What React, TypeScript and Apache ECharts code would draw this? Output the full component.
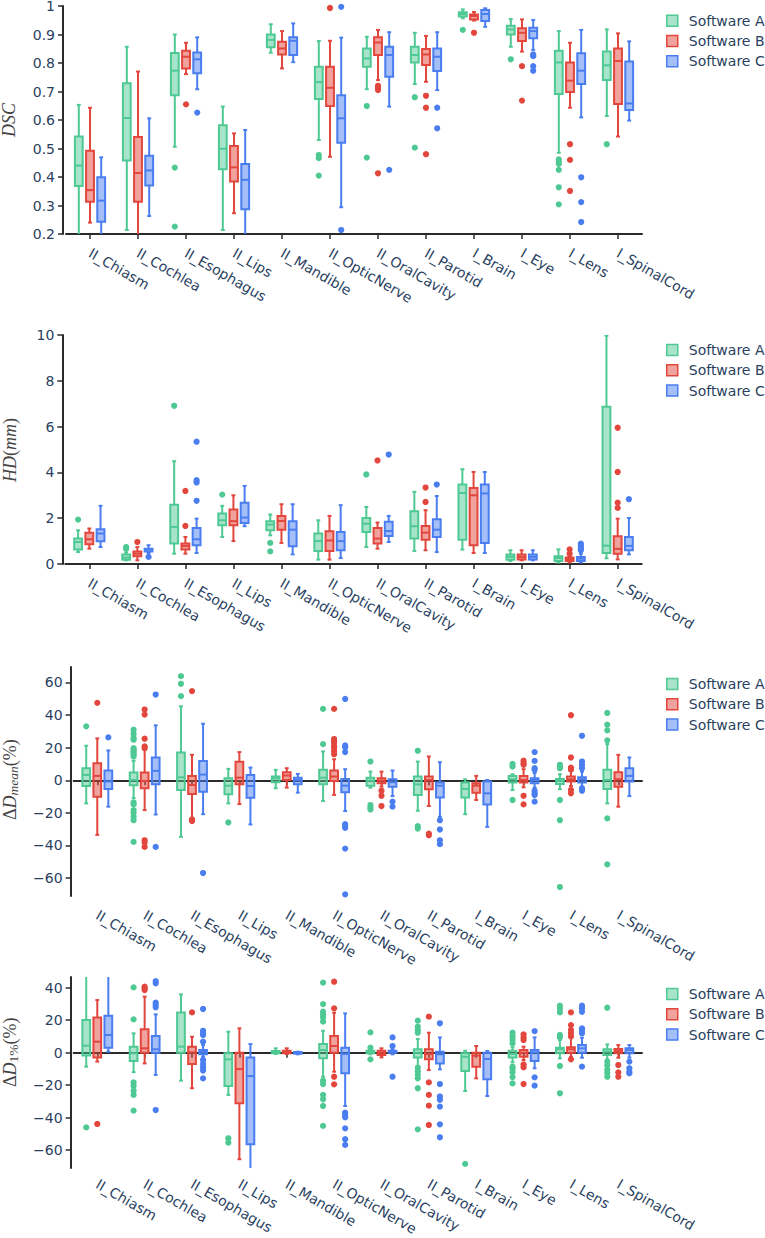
import React, { useEffect, useRef } from 'react';
import * as echarts from 'echarts';

const categories = ['II_Chiasm', 'II_Cochlea', 'II_Esophagus', 'II_Lips', 'II_Mandible', 'II_OpticNerve', 'II_OralCavity', 'II_Parotid', 'I_Brain', 'I_Eye', 'I_Lens', 'I_SpinalCord'];
const softwareNames = ['Software A', 'Software B', 'Software C'];

// ---- DSC: [lowerWhisker, q1, median, q3, upperWhisker]
const dscA = [[0.15, 0.368, 0.44, 0.542, 0.653], [0.214, 0.458, 0.607, 0.729, 0.857], [0.506, 0.687, 0.773, 0.835, 0.9], [0.214, 0.427, 0.499, 0.582, 0.647], [0.836, 0.855, 0.881, 0.9, 0.936], [0.53, 0.674, 0.733, 0.787, 0.877], [0.708, 0.787, 0.816, 0.851, 0.892], [0.726, 0.802, 0.828, 0.857, 0.906], [0.957, 0.963, 0.972, 0.978, 0.988], [0.857, 0.9, 0.918, 0.931, 0.954], [0.485, 0.691, 0.802, 0.843, 0.912], [0.614, 0.74, 0.792, 0.84, 0.918]];
const dscAOut = [[], [], [0.433, 0.226], [], [], [0.477, 0.466, 0.405], [0.649, 0.468], [0.68, 0.503], [0.916], [0.813], [0.462, 0.454, 0.446, 0.425, 0.364, 0.304], [0.515]];
const dscB = [[0.24, 0.313, 0.354, 0.492, 0.643], [0.15, 0.313, 0.414, 0.54, 0.77], [0.761, 0.781, 0.822, 0.843, 0.871], [0.273, 0.384, 0.434, 0.509, 0.553], [0.781, 0.83, 0.851, 0.875, 0.912], [0.471, 0.649, 0.713, 0.787, 0.878], [0.74, 0.828, 0.872, 0.89, 0.916], [0.734, 0.793, 0.83, 0.849, 0.895], [0.949, 0.953, 0.965, 0.97, 0.979], [0.84, 0.877, 0.906, 0.922, 0.953], [0.643, 0.698, 0.738, 0.802, 0.871], [0.542, 0.656, 0.807, 0.851, 0.904]];
const dscBOut = [[], [], [0.655], [], [], [0.993], [0.72, 0.713, 0.705, 0.413], [0.685, 0.643, 0.48], [0.906], [0.789, 0.668], [0.515, 0.46, 0.351], []];
const dscC = [[0.15, 0.243, 0.317, 0.399, 0.469], [0.263, 0.37, 0.423, 0.475, 0.606], [0.708, 0.764, 0.813, 0.837, 0.89], [0.15, 0.287, 0.39, 0.446, 0.565], [0.803, 0.828, 0.878, 0.89, 0.939], [0.294, 0.52, 0.606, 0.687, 0.889], [0.647, 0.752, 0.828, 0.857, 0.908], [0.705, 0.772, 0.822, 0.851, 0.908], [0.927, 0.947, 0.972, 0.986, 0.992], [0.846, 0.887, 0.912, 0.924, 0.951], [0.609, 0.726, 0.773, 0.834, 0.916], [0.598, 0.635, 0.658, 0.805, 0.876]];
const dscCOut = [[], [], [0.626], [], [], [0.997, 0.214], [0.425], [0.643, 0.571], [], [0.83, 0.824, 0.789, 0.773], [0.399, 0.312, 0.242], []];

// ---- HD (mm)
const hdA = [[0.52, 0.63, 0.96, 1.11, 1.47], [0.16, 0.19, 0.28, 0.42, 0.5], [0.45, 0.89, 1.62, 2.59, 4.49], [1.18, 1.69, 1.91, 2.2, 2.54], [1.25, 1.47, 1.72, 1.87, 2.16], [0.19, 0.57, 1.0, 1.33, 1.91], [0.74, 1.4, 1.76, 2.01, 2.49], [0.57, 1.11, 1.65, 2.3, 3.15], [0.63, 1.06, 3.1, 3.47, 4.14], [0.13, 0.19, 0.31, 0.41, 0.6], [0.06, 0.13, 0.26, 0.34, 0.64], [0.25, 0.48, 0.8, 6.87, 9.97]];
const hdAOut = [[1.94], [0.74, 0.66], [6.91], [3.03], [0.92, 0.55], [], [3.91], [], [], [], [], []];
const hdB = [[0.67, 0.86, 1.08, 1.36, 1.55], [0.16, 0.34, 0.45, 0.55, 0.74], [0.45, 0.63, 0.79, 0.89, 1.18], [1.0, 1.69, 1.87, 2.38, 3.0], [0.92, 1.5, 1.88, 2.1, 2.61], [0.19, 0.57, 1.03, 1.43, 2.1], [0.67, 0.89, 1.11, 1.57, 1.81], [0.6, 1.06, 1.37, 1.66, 2.35], [0.48, 0.82, 3.0, 3.32, 4.02], [0.16, 0.2, 0.31, 0.41, 0.6], [0.07, 0.13, 0.22, 0.28, 0.35], [0.2, 0.45, 0.66, 1.21, 1.98]];
const hdBOut = [[], [0.96], [3.19, 1.66], [], [], [], [4.52], [3.34, 2.71], [], [], [0.64, 0.45], [5.95, 4.02, 2.68, 2.45]];
const hdC = [[0.74, 0.99, 1.33, 1.52, 2.54], [0.48, 0.55, 0.63, 0.67, 0.82], [0.48, 0.82, 1.08, 1.57, 1.98], [1.65, 1.79, 2.03, 2.68, 3.41], [0.42, 0.77, 1.5, 1.87, 2.61], [0.26, 0.6, 1.0, 1.4, 2.57], [0.96, 1.22, 1.44, 1.84, 2.1], [0.52, 1.18, 1.5, 1.95, 2.97], [0.48, 0.92, 3.08, 3.47, 4.02], [0.16, 0.2, 0.31, 0.41, 0.6], [0.07, 0.13, 0.23, 0.31, 0.45], [0.42, 0.6, 0.79, 1.18, 2.01]];
const hdCOut = [[], [0.31], [5.34, 3.66, 3.56, 2.76], [], [], [], [4.78], [3.47], [], [], [0.89, 0.82, 0.74, 0.67, 0.6], [2.83]];

// ---- ΔD mean (%)
const dmA = [[-14.2, -3.5, 3.3, 7.4, 21.2], [-11, -3.1, 0.2, 4.7, 12], [-34.7, -6.0, 1.8, 17.1, 45.4], [-14.2, -8.6, -3.3, 1.2, 7], [-4.9, -1.2, 1.2, 2.3, 6.4], [-12.7, -2.5, 1.6, 6.4, 17.7], [-4.5, -3.3, -0.2, 1.6, 5.3], [-18.7, -9.0, -2.5, 2.3, 11.5], [-20.8, -10.5, -5.3, -1.4, 0.6], [-6.0, -1.4, 0.6, 2.7, 3.7], [-5.5, -2.3, -0.4, 0.8, 3.7], [-14.2, -5.3, 0.2, 6.4, 22.2]];
const dmAOut = [[33.1], [31, 28.4, 25.9, 24.9, 19.7, 18.7, 17.7, 16.6, 15.6, 14.6, -13.6, -14.8, -18.3, -20, -22.4, -24.5, -37.8], [63.9, 59.2, 51.6], [-25.9], [], [43.8, 22.2], [11.5, -15.2, -16.8, -17.9], [18.1, -28.1, -29.6], [], [10, 8.4, -12.1], [9.5, 8.4, 7.4, -12.1, -24.5, -65.5], [41.3, 34.1, 30.6, 24.5, -23.4, -51.6]];
const dmB = [[-33.5, -10.1, 2.7, 10.5, 25.7], [-18.3, -4.9, -0.4, 4.7, 18.7], [-24.5, -8.4, -2.9, 2.7, 15.6], [-14.6, -2.5, 1.6, 11.3, 17.3], [-4.5, 0.2, 2.9, 4.9, 7.4], [-9.0, -0.4, 2.3, 6.0, 12.9], [-3.9, -1.8, -0.2, 1.2, 5.3], [-15.8, -5.5, 0.2, 2.3, 14.6], [-12.1, -7.6, -3.3, -1.8, 2.7], [-4.3, -1.4, 0.2, 2.7, 6.8], [-3.5, -0.8, 0.6, 2.3, 5.8], [-16.2, -3.9, 0.6, 4.9, 15.6]];
const dmBOut = [[47.5], [43.4, 40.3, 25.5, 20.8, 19.7, -36.8, -38.2, -40.9], [54.7, -24.0, -25.0], [], [], [43.8, 25.3, 24, 23, 21, 20, 18, 16], [-6.4, -9.5, -15.8], [-32.7, -33.7], [], [12, 10.5, 9.5, -9.5, -14.8], [39.9, 14, 7.8, 6.5, -6, -8], []];
const dmC = [[-16.2, -5.3, -0.8, 6.0, 18.3], [-21, -2.5, 5.8, 14.0, 33.7], [-20.8, -7.0, 3.5, 11.9, 34.7], [-27.1, -10.7, -3.5, 3.3, 7.8], [-7.6, -2.5, 0.2, 1.6, 3.9], [-18.9, -7.4, -3.3, 0.8, 6.8], [-9.7, -3.9, -1.2, 0.6, 6.0], [-22.4, -10.5, -3.3, -1.4, 11.1], [-28.6, -14.8, -8.0, -0.8, 0.2], [-4.5, -1.8, 0.2, 1.2, 4.5], [-3.9, -1.4, 0.6, 1.8, 5.3], [-9.7, -0.8, 2.7, 7.4, 14]];
const dmCOut = [[26.3], [52.6, -40.9], [-56.9], [], [], [49.9, 21.4, 20.3, 17.3, -26.9, -27.9, -29.2, -41.9, -70], [-13.1, -16.2], [-24.5, -30.2, -36.8, -39.2], [], [17.3, 11.9, 7.4, 6.4, -6.4, -8, -9, -13.1], [27.3, 11.5, 9.5, 7.4, -4.9, -6.4], []];

// ---- ΔD 1% (%)
const d1A = [[-8.6, -1.8, 4.3, 20.1, 52], [-12, -5.1, -0.4, 3.7, 11.9], [-17.2, 0, 3.7, 24.8, 35.9], [-26, -20.5, -4.1, -0.4, 12.9], [-0.8, -0.4, 0, 1.0, 2.7], [-14.8, -3.5, 1.6, 5.3, 13.5], [-1.0, -0.4, 0, 1.2, 1.6], [-8.2, -2.9, 0, 2.1, 8.4], [-23.6, -11.3, -2.5, -0.4, 1.2], [-5.9, -2.9, -0.8, 1.2, 3.3], [-3.5, -0.4, 2.1, 3.1, 7.8], [-4.1, -1.4, 0.6, 2.1, 5.1]];
const d1AOut = [[-46], [40.2, 20.5, -18.3, -20.5, -23.4, -26, -35.7], [], [-52.7, -55.4], [], [43.1, 29.9, 25.2, 23.6, 21.7, 19.1, -17.2, -19.3, -26, -28.7, -32.8, -45.1], [12.5, 3.1, -4.1], [19.7, 16, 14, 12.3, -9.2, -11.5, -13.7, -15.8, -21.9, -47.2], [-68.5], [12.3, 10, 8, 5.7, -8.6, -10, -12, -15, -18.9], [28.9, 26.9, 24.8, 10.9, 9.4, -8.2, -25], [27.7, -5.5, -7.8, -10.5, -12.5, -14.8]];
const d1B = [[-5.5, -2.9, 6.8, 21.7, 32.4], [-6.6, 0, 2.7, 14.4, 34.5], [-21.9, -7.0, 0.2, 3.7, 9.8], [-65.6, -31.2, -10.1, 0, 15], [-0.8, -0.4, 0.4, 1.2, 2.7], [-11.7, 0, 4.1, 10.3, 24.6], [-2.9, -1.4, 0, 1.2, 2.7], [-10.7, -4.1, -0.8, 2.1, 12.3], [-15.8, -8.6, -1.8, 0, 4.1], [-4.5, -2.5, 0, 1.6, 3.7], [-2.5, 0, 2.1, 3.3, 9.2], [-3.1, -0.4, 1.0, 2.3, 4.7]];
const d1BOut = [[-43.9], [40.6, 39.6, 38.6], [24.8], [], [], [43.7, 27.3, -14.8, -19.5], [], [22.2, -18.3, -26, -32.6, -44.5], [], [11.3, 9.4, 7.8, -7.2, -9, -19.3], [24.8, 17, 14, 12, 10, -4.1], [-7.6, -12.1, -14.8]];
const d1C = [[0.6, 3.1, 10.9, 22.8, 52], [-13.7, 0, 2.1, 10.3, 23.6], [-2.5, -1.0, 0.6, 1.6, 4.7], [-80, -56.4, -14.4, -2.9, 5.3], [-1.0, -0.6, 0, 0.4, 0.6], [-32.8, -12.7, -0.8, 3.1, 24.2], [-1.0, 0, 0.4, 1.2, 2.1], [-10.3, -6.6, -1.0, 0.6, 9.4], [-26.7, -16.4, -3.9, 0, 1.0], [-9.6, -5.1, 0.2, 1.6, 9.4], [-3.1, 0, 2.7, 4.7, 9.2], [-3, -0.4, 1.6, 2.7, 4.7]];
const d1COut = [[], [44.1, 42.7, 30.8, 29.3, 27.9, -35.3], [26.9, 13.5, 12, 10.9, 6.8, -4.5, -7, -9, -11, -15.8], [], [], [-36.9, -38.4, -39.8, -46.6, -53.3, -56.8], [9.4, 4.1, -14.8], [18.1, -19.3, -27, -29, -33.2, -44.1, -52.1], [], [13.3, -15.2, -20.3], [28.9, 27.3, 25.2, 15, 13.5, 11.9, -8.6], [-5.5, -9.6, -11.7, -12.7]];

// y-axis ticks
const dscTicks = { min: 0.2, max: 1, interval: 0.1 };
const hdTicks = { min: 0, max: 10, interval: 2 };
const dmTickValues = [-60, -40, -20, 0, 20, 40, 60];
const d1TickValues = [-60, -40, -20, 0, 20, 40];

// y-axis titles (rich text markup)
const yTitles = ['{i|DSC}', '{i|HD}{r|(}{i|mm}{r|)}', '{r|Δ}{i|D}{s|mean}{r|(%)}', '{r|Δ}{i|D}{n|1%}{r|(%)}'];

const LINE_COLORS = ['#4fc993', '#e2463c', '#4a7ef0'];
const FILL_COLORS = ['rgba(79,201,147,0.5)', 'rgba(226,70,60,0.5)', 'rgba(74,126,240,0.5)'];
const OFFSETS = [-0.2333, 0, 0.2333];
const BOX_W = 0.163;
const TEXT = '#2a3f5f';
const AXIS = '#2b2b2b';
const FONT = 'Verdana, "DejaVu Sans", sans-serif';
const SERIF = '"Liberation Serif", "DejaVu Serif", serif';
const NAME_COLOR = '#444';

function boxRenderer(off: number, line: string, fill: string) {
  return (params: any, api: any) => {
    const x = api.value(0);
    const band = api.size([1, 0])[0];
    const cx = api.coord([x, 0])[0] + off * band;
    const y = (v: number) => api.coord([x, v])[1];
    const w = BOX_W * band;
    const cw = w * 0.5;
    const yMin = y(api.value(1));
    const yQ1 = y(api.value(2));
    const yMed = y(api.value(3));
    const yQ3 = y(api.value(4));
    const yMax = y(api.value(5));
    const ls = { stroke: line, lineWidth: 2, fill: null };
    return {
      type: 'group',
      children: [
        { type: 'line', shape: { x1: cx, y1: yQ3, x2: cx, y2: yMax }, style: ls },
        { type: 'line', shape: { x1: cx, y1: yQ1, x2: cx, y2: yMin }, style: ls },
        { type: 'line', shape: { x1: cx - cw / 2, y1: yMax, x2: cx + cw / 2, y2: yMax }, style: ls },
        { type: 'line', shape: { x1: cx - cw / 2, y1: yMin, x2: cx + cw / 2, y2: yMin }, style: ls },
        { type: 'rect', shape: { x: cx - w / 2, y: yQ3, width: w, height: yQ1 - yQ3 }, style: { fill, stroke: line, lineWidth: 2 } },
        { type: 'line', shape: { x1: cx - w / 2, y1: yMed, x2: cx + w / 2, y2: yMed }, style: ls },
      ],
    };
  };
}

function outlierRenderer(off: number, line: string) {
  return (params: any, api: any) => {
    const x = api.value(0);
    const band = api.size([1, 0])[0];
    const p = api.coord([x, api.value(1)]);
    return { type: 'circle', shape: { cx: p[0] + off * band, cy: p[1], r: 3.1 }, style: { fill: line } };
  };
}

const panels = [
  { boxes: [dscA, dscB, dscC], outs: [dscAOut, dscBOut, dscCOut] },
  { boxes: [hdA, hdB, hdC], outs: [hdAOut, hdBOut, hdCOut] },
  { boxes: [dmA, dmB, dmC], outs: [dmAOut, dmBOut, dmCOut] },
  { boxes: [d1A, d1B, d1C], outs: [d1AOut, d1BOut, d1COut] },
];

const grids = [
  { left: 66, top: 6, width: 576, height: 228 },
  { left: 65.3, top: 335, width: 576.4, height: 229 },
  { left: 73.6, top: 667, width: 568.4, height: 229 },
  { left: 73.6, top: 977, width: 568.4, height: 191 },
];
const xLabelMargins = [18, 18, 18, 15];
const legendTops = [12.7, 342, 676, 986];
// start (lower end) of each rotated y title
const titlePos = [[9, 137], [10, 482], [10, 820], [10, 1087]];

const minusFmt = (v: number) => (v < 0 ? '\u2212' + Math.abs(v) : String(v));

const MAIN = 18;
const SUB = 13.5;
const nameRich = {
  i: { fontFamily: SERIF, fontSize: MAIN, fill: NAME_COLOR, fontStyle: 'italic', lineHeight: 20 },
  r: { fontFamily: SERIF, fontSize: MAIN, fill: NAME_COLOR, fontStyle: 'normal', lineHeight: 20 },
  s: { fontFamily: SERIF, fontSize: SUB, fill: NAME_COLOR, fontStyle: 'italic', lineHeight: 13, verticalAlign: 'bottom' },
  n: { fontFamily: SERIF, fontSize: SUB, fill: NAME_COLOR, fontStyle: 'normal', lineHeight: 13, verticalAlign: 'bottom' },
};

function buildOption() {
  const tickLabel = { fontSize: 14, color: TEXT, fontFamily: FONT, margin: 8 };
  const tickLine = { show: true, length: 5, lineStyle: { color: AXIS, width: 1.5 } };
  const yBase = (gi: number) => ({
    type: 'value',
    gridIndex: gi,
    offset: 3,
    axisLine: { show: true, lineStyle: { color: AXIS, width: 2 } },
    axisTick: tickLine,
    axisLabel: { ...tickLabel, formatter: minusFmt },
    splitLine: { show: false },
  });
  const yAxis = [
    { ...yBase(0), min: dscTicks.min, max: dscTicks.max, interval: dscTicks.interval, axisLabel: { ...tickLabel, lineHeight: 12 } },
    { ...yBase(1), min: hdTicks.min, max: hdTicks.max, interval: hdTicks.interval },
    { ...yBase(2), min: -71, max: 69.5,
      axisLabel: { ...tickLabel, formatter: minusFmt, customValues: dmTickValues },
      axisTick: { ...tickLine, customValues: dmTickValues } },
    { ...yBase(3), min: -71, max: 46.6,
      axisLabel: { ...tickLabel, formatter: minusFmt, customValues: d1TickValues },
      axisTick: { ...tickLine, customValues: d1TickValues } },
  ];
  const xAxis = grids.map((g, gi) => ({
    type: 'category',
    gridIndex: gi,
    data: categories,
    axisLine: { show: true, lineStyle: { color: AXIS, width: 2 } },
    axisTick: { show: true, alignWithLabel: true, length: 5, lineStyle: { color: AXIS, width: 1.5 } },
    axisLabel: { interval: 0, rotate: -30, fontSize: 14, lineHeight: 14, color: TEXT, fontFamily: FONT, margin: xLabelMargins[gi] },
    splitLine: { show: false },
  }));
  const series: any[] = [];
  panels.forEach((p, gi) => {
    for (let s = 0; s < 3; s++) {
      series.push({
        type: 'custom',
        name: softwareNames[s],
        xAxisIndex: gi,
        yAxisIndex: gi,
        clip: true,
        itemStyle: { color: FILL_COLORS[s], borderColor: LINE_COLORS[s] },
        encode: { x: 0, y: [1, 2, 3, 4, 5] },
        data: p.boxes[s].map((b, i) => [i, ...b]),
        renderItem: boxRenderer(OFFSETS[s], LINE_COLORS[s], FILL_COLORS[s]),
      });
      const outData: number[][] = [];
      p.outs[s].forEach((list, i) => list.forEach((v) => outData.push([i, v])));
      series.push({
        type: 'custom',
        name: softwareNames[s],
        xAxisIndex: gi,
        yAxisIndex: gi,
        clip: false,
        itemStyle: { color: FILL_COLORS[s], borderColor: LINE_COLORS[s] },
        encode: { x: 0, y: 1 },
        data: outData,
        renderItem: outlierRenderer(OFFSETS[s], LINE_COLORS[s]),
      });
    }
  });
  const legend = legendTops.map((t) => ({
    orient: 'vertical',
    left: 666,
    top: t,
    padding: 0,
    icon: 'rect',
    itemWidth: 11,
    itemHeight: 11,
    itemGap: 4.3,
    selectedMode: false,
    textStyle: { fontSize: 14, color: TEXT, fontFamily: FONT, lineHeight: 16, padding: [0, 0, 0, 6] },
    data: softwareNames.map((n, s) => ({ name: n, itemStyle: { color: FILL_COLORS[s], borderColor: LINE_COLORS[s], borderWidth: 1.5 } })),
  }));
  const graphic = yTitles.map((t, k) => ({
    type: 'text',
    x: titlePos[k][0],
    y: titlePos[k][1],
    rotation: Math.PI / 2,
    style: { text: t, rich: nameRich, align: 'left', verticalAlign: 'middle', font: `italic ${MAIN}px ${SERIF}`, fill: NAME_COLOR },
  }));
  return {
    animation: false,
    backgroundColor: '#fff',
    grid: grids.map((g) => ({ ...g, containLabel: false, outerBoundsMode: 'none' })),
    xAxis,
    yAxis,
    legend,
    graphic,
    series,
  };
}

export default function App() {
  const ref = useRef<HTMLDivElement>(null);
  useEffect(() => {
    if (!ref.current) return;
    const chart = echarts.init(ref.current, null, { renderer: 'svg' });
    chart.setOption(buildOption() as any);
    return () => chart.dispose();
  }, []);
  return <div ref={ref} style={{ position: 'absolute', left: 0, top: 0, width: 765, height: 1238 }} />;
}
